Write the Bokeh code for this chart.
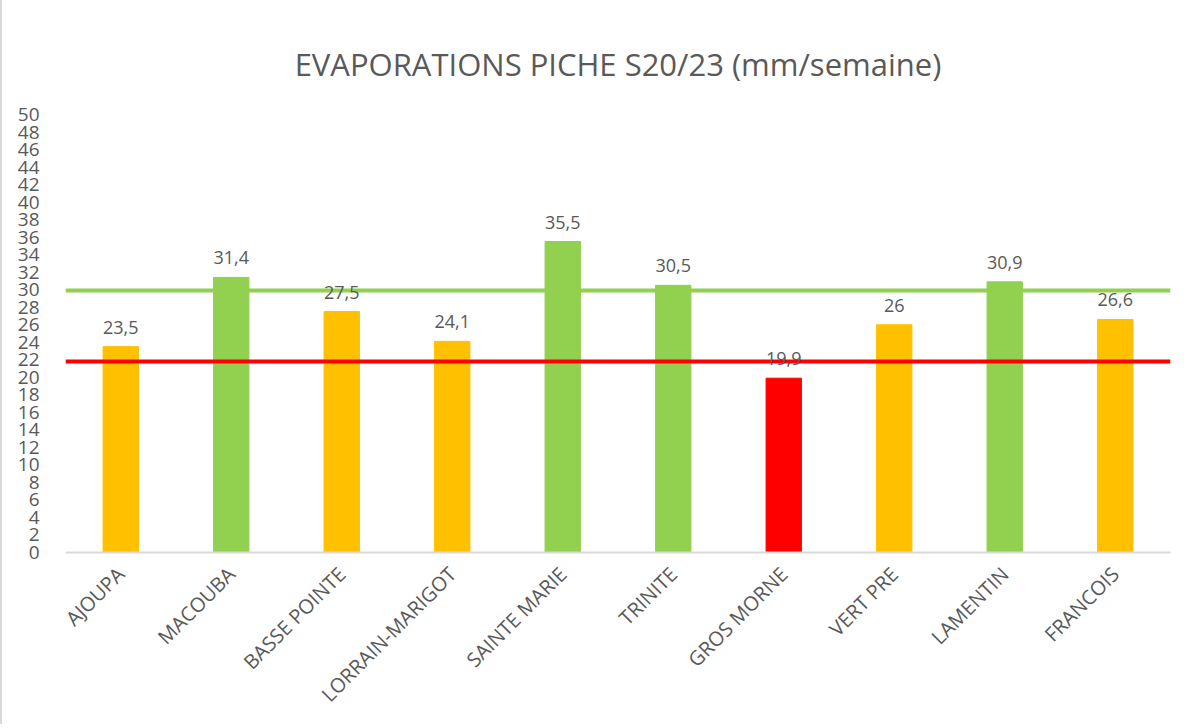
import math
from bokeh.plotting import figure
from bokeh.models import ColumnDataSource, Range1d, FixedTicker, Span, LabelSet
from bokeh.core.properties import value
from bokeh.embed import file_html
from bokeh.resources import INLINE

stations = ["AJOUPA", "MACOUBA", "BASSE POINTE", "LORRAIN-MARIGOT", "SAINTE MARIE",
            "TRINITE", "GROS MORNE", "VERT PRE", "LAMENTIN", "FRANCOIS"]
evaporation = [23.5, 31.4, 27.5, 24.1, 35.5, 30.5, 19.9, 26.0, 30.9, 26.6]
value_labels = ["23,5", "31,4", "27,5", "24,1", "35,5", "30,5", "19,9", "26", "30,9", "26,6"]
bar_colors = ["#FFC000", "#92D050", "#FFC000", "#FFC000", "#92D050",
              "#92D050", "#FF0000", "#FFC000", "#92D050", "#FFC000"]
y_ticks = list(range(0, 51, 2))
upper_threshold = 29.9
lower_threshold = 21.8

FONT = "Open Sans"
GREY = "#595959"

src = ColumnDataSource(dict(x=stations, y=evaporation, lab=value_labels, c=bar_colors))

p = figure(x_range=stations, y_range=Range1d(0, 50), width=1196, height=724,
           output_backend="svg", toolbar_location=None,
           title="EVAPORATIONS PICHE S20/23 (mm/semaine)",
           min_border_left=63, min_border_right=28, min_border_top=114, min_border_bottom=172)

p.vbar(x="x", top="y", width=0.32, color="c", source=src)

p.add_layout(Span(location=upper_threshold, dimension="width", line_color="#92D050", line_width=4))
p.add_layout(Span(location=lower_threshold, dimension="width", line_color="#FF0000", line_width=4))

labels = LabelSet(x="x", y="y", text="lab", source=src, text_align="center",
                  text_baseline="bottom", y_offset=13, text_font=value(FONT),
                  text_font_size="18px", text_color=GREY)
p.add_layout(labels)

p.title.align = "center"
p.title.text_font = FONT
p.title.text_font_size = "31px"
p.title.text_font_style = "normal"
p.title.text_color = GREY
p.title.standoff = 60

p.xgrid.grid_line_color = None
p.ygrid.grid_line_color = None
p.outline_line_color = None

p.yaxis.ticker = FixedTicker(ticks=y_ticks)
p.yaxis.axis_line_color = None
p.yaxis.major_tick_line_color = None
p.yaxis.minor_tick_line_color = None
p.yaxis.major_label_text_font = FONT
p.yaxis.major_label_text_font_size = "19px"
p.yaxis.major_label_text_color = GREY
p.yaxis.major_label_standoff = 20

p.xaxis.axis_line_color = "#D9D9D9"
p.xaxis.axis_line_width = 2
p.xaxis.major_tick_line_color = None
p.xaxis.minor_tick_line_color = None
p.xaxis.major_label_orientation = math.pi / 4
p.xaxis.major_label_text_font = FONT
p.xaxis.major_label_text_font_size = "20px"
p.xaxis.major_label_text_color = GREY
p.xaxis.major_label_standoff = 12

p.styles = {"border-left": "2px solid #D9D9D9"}

open("out.html", "w").write(file_html(p, INLINE))
